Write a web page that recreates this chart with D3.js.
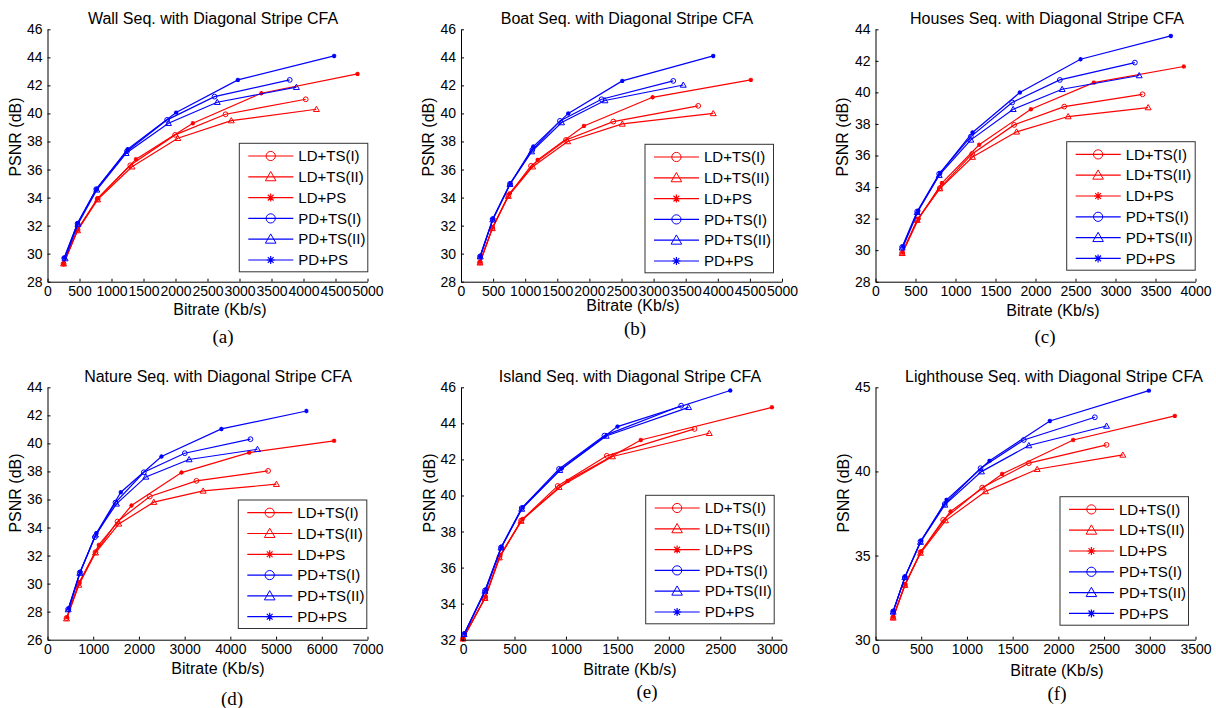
<!DOCTYPE html>
<html lang="en">
<head>
  <meta charset="utf-8">
  <title>Diagonal Stripe CFA – PSNR vs Bitrate</title>
  <style>
    body { margin: 0; background: #fff; }
    svg { display: block; font-family: "Liberation Sans", Arial, sans-serif; }
    .tick text { font-size: 14px; fill: #000; }
    .axis path, .axis line { stroke: #000; stroke-width: 1; }
  </style>
</head>
<body>
  <div id="chart"></div>

  <script src="https://d3js.org/d3.v7.min.js"></script>
  <script>
// series order: LD+TS(I), LD+TS(II), LD+PS, PD+TS(I), PD+TS(II), PD+PS
const seriesNames = ["LD+TS(I)", "LD+TS(II)", "LD+PS", "PD+TS(I)", "PD+TS(II)", "PD+PS"];
const seriesColors = ["#ff0000", "#ff0000", "#ff0000", "#0000ff", "#0000ff", "#0000ff"];
const seriesMarkers = ["circle", "triangle", "star", "circle", "triangle", "star"];

const wallRate = [
  [251, 470, 783, 1294, 1994, 2782, 4035],
  [251, 470, 783, 1320, 2036, 2871, 4202],
  [251, 470, 783, 1383, 2271, 3341, 4844],
  [261, 470, 762, 1242, 1869, 2610, 3785],
  [275, 475, 770, 1227, 1890, 2652, 3889],
  [261, 470, 762, 1253, 2010, 2975, 4479]
];
const wallPsnr = [
  [29.28, 31.70, 33.90, 36.30, 38.47, 39.94, 41.01],
  [29.28, 31.65, 33.85, 36.20, 38.23, 39.49, 40.30],
  [29.28, 31.72, 33.95, 36.74, 39.30, 41.44, 42.82],
  [29.68, 32.13, 34.60, 37.30, 39.54, 41.20, 42.39],
  [29.65, 32.10, 34.55, 37.16, 39.30, 40.80, 41.87],
  [29.70, 32.18, 34.60, 37.45, 40.06, 42.39, 44.10]
];

const boatRate = [
  [296, 488, 737, 1090, 1635, 2372, 3695],
  [296, 488, 737, 1116, 1661, 2512, 3929],
  [296, 495, 760, 1194, 1915, 2984, 4515],
  [296, 493, 763, 1111, 1541, 2190, 3306],
  [300, 495, 763, 1100, 1567, 2242, 3462],
  [300, 500, 770, 1126, 1671, 2512, 3929]
];
const boatPsnr = [
  [29.37, 31.82, 34.15, 36.26, 38.11, 39.42, 40.54],
  [29.35, 31.80, 34.10, 36.20, 38.00, 39.25, 40.00],
  [29.40, 31.90, 34.30, 36.69, 39.11, 41.15, 42.39],
  [29.80, 32.46, 34.98, 37.40, 39.47, 41.01, 42.32],
  [29.78, 32.42, 34.95, 37.28, 39.35, 40.92, 42.03],
  [29.82, 32.50, 35.00, 37.64, 40.00, 42.32, 44.10]
];

const housesRate = [
  [333, 521, 804, 1208, 1733, 2359, 3338],
  [333, 521, 804, 1213, 1763, 2408, 3408],
  [340, 540, 830, 1296, 1942, 2729, 3854],
  [333, 521, 796, 1192, 1708, 2304, 3242],
  [333, 521, 796, 1192, 1721, 2333, 3296],
  [345, 535, 810, 1213, 1804, 2563, 3692]
];
const housesPsnr = [
  [29.82, 31.93, 33.93, 36.10, 37.94, 39.10, 39.88],
  [29.80, 31.90, 33.90, 35.90, 37.50, 38.47, 39.04],
  [29.85, 32.00, 34.25, 36.68, 38.93, 40.62, 41.64],
  [30.20, 32.45, 34.84, 37.20, 39.36, 40.79, 41.89],
  [30.15, 32.40, 34.75, 36.99, 38.93, 40.20, 41.07],
  [30.22, 32.50, 34.90, 37.46, 39.99, 42.10, 43.58]
];

const natureRate = [
  [416, 685, 1050, 1531, 2238, 3259, 4826],
  [416, 685, 1050, 1560, 2326, 3405, 5008],
  [430, 700, 1123, 1837, 2931, 4410, 6269],
  [452, 707, 1035, 1487, 2107, 3003, 4440],
  [452, 707, 1050, 1509, 2151, 3098, 4593],
  [470, 720, 1072, 1604, 2493, 3805, 5664]
];
const naturePsnr = [
  [27.54, 30.03, 32.24, 34.43, 36.21, 37.33, 38.04],
  [27.50, 29.90, 32.20, 34.26, 35.81, 36.61, 37.09],
  [27.60, 30.10, 32.76, 35.57, 37.92, 39.34, 40.18],
  [28.18, 30.79, 33.31, 35.78, 37.94, 39.30, 40.30],
  [28.15, 30.75, 33.48, 35.69, 37.61, 38.85, 39.58],
  [28.20, 30.85, 33.60, 36.52, 39.06, 41.03, 42.31]
];

const islandRate = [
  [0, 213, 353, 564, 920, 1397, 2250],
  [0, 213, 353, 564, 933, 1452, 2393],
  [0, 220, 365, 580, 1018, 1728, 3002],
  [10, 213, 369, 570, 933, 1374, 2120],
  [10, 213, 369, 570, 940, 1391, 2192],
  [15, 225, 375, 580, 960, 1501, 2597]
];
const islandPsnr = [
  [32.05, 34.31, 36.58, 38.61, 40.53, 42.20, 43.69],
  [32.05, 34.30, 36.55, 38.58, 40.46, 42.16, 43.45],
  [32.10, 34.40, 36.70, 38.70, 40.81, 43.08, 44.89],
  [32.31, 34.73, 37.12, 39.30, 41.47, 43.32, 44.98],
  [32.30, 34.70, 37.10, 39.25, 41.40, 43.30, 44.89],
  [32.35, 34.80, 37.15, 39.35, 41.50, 43.82, 45.82]
];

const lighthouseRate = [
  [193, 321, 492, 740, 1167, 1677, 2527],
  [193, 321, 492, 766, 1203, 1768, 2705],
  [193, 325, 500, 820, 1385, 2162, 3274],
  [193, 321, 492, 758, 1149, 1622, 2399],
  [193, 321, 492, 758, 1159, 1677, 2527],
  [193, 325, 500, 777, 1247, 1907, 2990]
];
const lighthousePsnr = [
  [31.32, 33.26, 35.20, 37.12, 39.04, 40.49, 41.58],
  [31.30, 33.24, 35.15, 37.08, 38.81, 40.13, 40.98],
  [31.35, 33.30, 35.25, 37.62, 39.85, 41.87, 43.30],
  [31.68, 33.72, 35.84, 38.07, 40.19, 41.87, 43.22],
  [31.65, 33.70, 35.80, 38.01, 39.99, 41.54, 42.70],
  [31.70, 33.75, 35.90, 38.31, 40.63, 43.00, 44.80]
];

const titles = ["Wall", "Boat", "Houses", "Nature", "Island", "Lighthouse"]
  .map(s => s + " Seq. with Diagonal Stripe CFA");
const captions = ["(a)", "(b)", "(c)", "(d)", "(e)", "(f)"];

const xTicks = [
  d3.range(0, 5001, 500), d3.range(0, 5001, 500), d3.range(0, 4001, 500),
  d3.range(0, 7001, 1000), d3.range(0, 3001, 500), d3.range(0, 3501, 500)
];
const xDomains = [[0, 5000], [0, 5000], [0, 4000], [0, 7000], [-20, 3100], [0, 3500]];
const yTicks = [
  d3.range(28, 47, 2), d3.range(28, 47, 2), d3.range(28, 45, 2),
  d3.range(26, 45, 2), d3.range(32, 47, 2), d3.range(30, 46, 5)
];

const rates = [wallRate, boatRate, housesRate, natureRate, islandRate, lighthouseRate];
const psnrs = [wallPsnr, boatPsnr, housesPsnr, naturePsnr, islandPsnr, lighthousePsnr];

// layout (pixel boxes of each axes, legends and text anchors)
const colX = [[47.5, 367.5], [461, 782], [875.5, 1195.5]];
const rowY = [[29.3, 281.7], [387.3, 639.7]];
const layout = [
  { title: 213, xlab: 220, cap: 223, ylab: 15, legend: [239.3, 143.3] },
  { title: 627, xlab: 633, cap: 635, ylab: 428, legend: [645, 144.3] },
  { title: 1047, xlab: 1053, cap: 1045, ylab: 842, legend: [1066.7, 141.7] },
  { title: 218, xlab: 218, cap: 232, ylab: 15, legend: [238.3, 500] },
  { title: 630, xlab: 630, cap: 647, ylab: 429, legend: [645.7, 495.3] },
  { title: 1054, xlab: 1057, cap: 1057, ylab: 843, legend: [1060, 496.7] }
];
const xlabBase = [314.5, 311, 316, 674, 675, 675.5];
const capBase = [343, 335, 342.5, 705, 698, 700];

const svg = d3.select("#chart").append("svg")
  .attr("width", 1216).attr("height", 708);
svg.append("rect").attr("width", 1216).attr("height", 708).attr("fill", "#fff");

function drawMarker(g, type, x, y, r, color) {
  if (type === "circle") {
    g.append("circle").attr("cx", x).attr("cy", y).attr("r", r)
      .attr("fill", "none").attr("stroke", color).attr("stroke-width", 1);
  } else if (type === "triangle") {
    const h = r * 1.15;
    g.append("path")
      .attr("d", `M${x},${y - h}L${x + h},${y + h * 0.75}L${x - h},${y + h * 0.75}Z`)
      .attr("fill", "none").attr("stroke", color).attr("stroke-width", 1);
  } else {
    const d = r * 0.72;
    g.append("path")
      .attr("d", `M${x - r},${y}H${x + r}M${x},${y - r}V${y + r}` +
                 `M${x - d},${y - d}L${x + d},${y + d}M${x - d},${y + d}L${x + d},${y - d}`)
      .attr("stroke", color).attr("stroke-width", 1.2);
  }
}

for (let p = 0; p < 6; p++) {
  const [x0, x1] = colX[p % 3];
  const [y0, y1] = rowY[Math.floor(p / 3)];
  const lay = layout[p];

  const x = d3.scaleLinear().domain(xDomains[p]).range([x0, x1]);
  const y = d3.scaleLinear().domain(d3.extent(yTicks[p])).range([y1, y0]);

  const g = svg.append("g");

  // lines + markers
  for (let s = 0; s < 6; s++) {
    const pts = rates[p][s].map((r, i) => [r, psnrs[p][s][i]]);
    g.append("path")
      .datum(pts)
      .attr("fill", "none")
      .attr("stroke", seriesColors[s])
      .attr("stroke-width", 1.2)
      .attr("d", d3.line().x(d => x(d[0])).y(d => y(d[1])));
    const mg = g.append("g");
    pts.forEach(d => {
      const r = seriesMarkers[s] === "star" ? 2.2 : (seriesMarkers[s] === "triangle" ? 2.6 : 2.4);
      drawMarker(mg, seriesMarkers[s], x(d[0]), y(d[1]), r, seriesColors[s]);
    });
  }

  // axes (box off, ticks pointing inward)
  g.append("g").attr("class", "axis")
    .attr("transform", `translate(0,${y1})`)
    .call(d3.axisBottom(x).tickValues(xTicks[p]).tickFormat(d3.format("d"))
      .tickSizeInner(-3).tickSizeOuter(0).tickPadding(4));
  g.append("g").attr("class", "axis")
    .attr("transform", `translate(${x0},0)`)
    .call(d3.axisLeft(y).tickValues(yTicks[p]).tickFormat(d3.format("d"))
      .tickSizeInner(-3).tickSizeOuter(0).tickPadding(5));

  // texts
  svg.append("text").attr("x", lay.title).attr("y", y0 - 5.5)
    .attr("text-anchor", "middle").attr("font-size", 16).text(titles[p]);
  svg.append("text").attr("x", lay.xlab).attr("y", xlabBase[p])
    .attr("text-anchor", "middle").attr("font-size", 16).text("Bitrate (Kb/s)");
  svg.append("text")
    .attr("transform", `translate(${lay.ylab},${Math.floor(p / 3) ? 493 : 137}) rotate(-90)`)
    .attr("dy", "0.35em")
    .attr("text-anchor", "middle").attr("font-size", 16).text("PSNR (dB)");
  svg.append("text").attr("x", lay.cap).attr("y", capBase[p])
    .attr("text-anchor", "middle")
    .attr("font-family", "'Liberation Serif', 'Times New Roman', serif")
    .attr("font-size", 19).text(captions[p]);

  // legend
  const [lx, ly] = lay.legend;
  const lg = svg.append("g").attr("transform", `translate(${lx},${ly})`);
  lg.append("rect").attr("width", 128.5).attr("height", 128.5)
    .attr("fill", "#fff").attr("stroke", "#333").attr("stroke-width", 1);
  seriesNames.forEach((name, s) => {
    const cy = 12.7 + s * 20.8;
    lg.append("line").attr("x1", 9).attr("x2", 54).attr("y1", cy).attr("y2", cy)
      .attr("stroke", seriesColors[s]).attr("stroke-width", 1.2);
    const r = seriesMarkers[s] === "star" ? 4 : (seriesMarkers[s] === "triangle" ? 4.6 : 4.6);
    drawMarker(lg, seriesMarkers[s], 31.4, cy, r, seriesColors[s]);
    lg.append("text").attr("x", 59).attr("y", cy + 5.3)
      .attr("font-size", 15).text(name);
  });
}
  </script>
</body>
</html>
